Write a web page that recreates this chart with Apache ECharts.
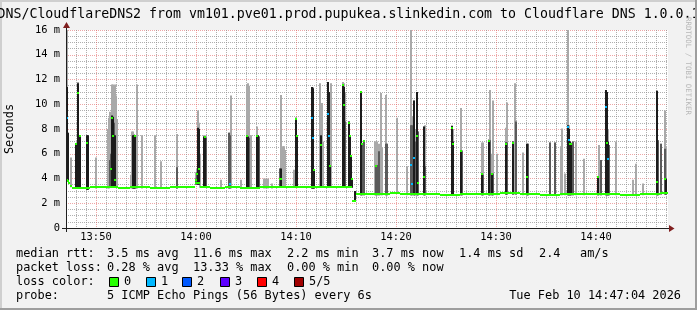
<!DOCTYPE html>
<html><head><meta charset="utf-8">
<script src="https://cdn.jsdelivr.net/npm/echarts@6/dist/echarts.min.js"></script>
<style>html,body{margin:0;padding:0;background:#f2f2f2;}#c{width:697px;height:310px;}</style>
</head><body><div id="c"></div>
<script>
// ---------- DATA (time = minutes after 13:00, values in ms) ----------
const title = 'DNS/CloudflareDNS2 from vm101.pve01.prod.pupukea.slinkedin.com to Cloudflare DNS 1.0.0.1';
const yTitle = 'Seconds';
const watermark = 'RRDTOOL / TOBI OETIKER';
const xMajorTicks = [50, 60, 70, 80, 90, 100];
const yMajorTicks = [0, 2, 4, 6, 8, 10, 12, 14, 16];

// outer smoke (max ping of each round) - light gray
const lightT = [47.05,47.15,47.50,48.00,48.20,48.35,49.10,49.20,49.95,51.20,51.30,51.40,51.50,51.60,51.70,51.80,51.90,52.00,52.10,53.50,53.60,53.70,53.80,53.90,54.10,54.60,55.90,56.45,58.05,60.00,60.10,60.20,60.30,60.40,60.80,60.90,61.00,62.50,63.30,63.40,63.50,64.45,65.10,65.20,65.30,65.45,66.10,66.20,66.30,66.80,67.00,67.20,67.60,68.40,68.50,68.70,68.80,68.90,69.75,69.95,70.05,71.60,71.70,71.80,72.40,72.50,72.60,72.70,73.15,73.25,73.35,73.50,74.70,74.80,74.90,75.25,75.35,75.45,75.55,75.90,76.45,76.55,76.75,77.90,78.00,78.10,78.30,78.50,78.60,78.95,79.05,80.10,81.10,81.50,81.60,81.80,81.90,82.10,82.20,82.80,82.90,85.55,85.65,86.50,86.60,88.60,88.70,89.25,89.35,89.60,89.70,90.05,90.95,91.05,91.70,91.85,92.00,92.65,93.10,93.20,95.40,95.85,96.50,96.60,96.85,97.15,97.25,97.40,97.50,97.70,98.00,98.80,100.15,100.25,100.45,101.00,101.10,101.20,101.30,102.00,103.70,104.00,104.70,106.10,106.20,106.45,106.85,106.95];
const lightV = [16.4,7.7,5.7,6.8,11.8,7.4,7.5,7.5,5.7,8.0,8.9,9.4,9.0,11.6,11.6,10.2,11.6,10.7,8.8,4.3,7.8,7.8,7.6,7.5,11.6,7.5,7.5,5.4,7.6,4.5,4.8,9.5,8.5,6.0,7.5,7.5,7.4,3.9,7.7,7.7,10.7,3.9,11.6,11.7,11.5,7.5,8.2,7.5,7.4,4.0,4.0,4.0,3.6,4.8,10.75,6.6,6.6,6.3,4.7,8.9,7.5,11.4,11.4,4.7,11.7,10.1,10.1,7.0,11.8,11.0,5.0,11.7,11.8,11.7,11.0,8.6,7.5,5.8,4.0,3.0,11.0,6.8,7.1,7.0,7.0,7.0,6.8,10.9,6.5,10.75,6.8,8.9,5.0,16.4,9.0,10.3,8.0,11.0,7.8,8.2,8.3,8.3,8.0,9.7,6.3,6.9,6.9,7.2,11.15,6.0,10.3,6.0,8.1,10.15,7.0,11.7,8.6,6.1,6.8,6.8,6.9,6.9,6.6,8.05,4.4,16.4,8.3,7.0,6.9,7.0,7.0,5.6,4.15,6.7,5.5,11.15,11.0,8.0,6.7,7.0,3.9,5.2,3.6,11.1,7.1,6.8,9.5,6.4];

// middle smoke - mid gray
const midT = [51.40,51.50,51.80,58.05,60.00,60.10,61.00,63.30,63.40,65.30,66.30,68.40,74.90,76.55,76.75,78.00,78.10,78.30,78.95,79.05,81.50,81.60,81.90,82.20,82.90,86.60,88.70,89.35,89.70,91.05,92.00,93.20,95.40,95.85,97.70,100.45,101.30,106.20,106.45,106.85];
const midV = [5.5,6.0,8.5,4.9,4.0,4.5,7.3,7.7,7.5,7.3,7.4,4.8,8.6,6.8,7.0,5.1,5.1,6.2,6.8,6.8,8.3,8.3,7.0,7.8,5.0,6.2,4.3,7.1,4.4,6.9,8.6,6.8,6.9,6.9,7.0,5.5,6.7,7.1,6.8,6.4];

// inner smoke - near black
const coreT = [47.05,47.15,48.00,48.20,48.35,49.10,49.20,51.60,51.70,51.90,53.70,53.80,53.90,60.20,60.30,60.80,60.90,65.10,65.20,66.10,66.20,68.50,69.95,70.05,71.60,71.70,71.80,72.50,73.15,73.25,73.35,74.70,74.80,75.25,75.35,75.45,75.55,75.90,76.45,81.80,82.10,82.80,85.55,85.65,86.50,88.60,89.25,89.60,90.95,91.70,93.10,97.15,97.25,97.40,97.50,100.15,101.00,101.10,101.20,106.10,106.95];
const coreV = [11.4,7.7,6.8,11.7,7.4,7.5,7.5,9.1,9.0,7.5,7.5,7.5,7.5,8.1,8.0,7.4,7.4,7.4,7.4,7.5,7.5,4.8,8.9,7.4,11.4,11.3,4.7,7.5,11.8,11.0,5.0,11.6,11.4,8.6,7.4,5.8,4.0,3.0,11.0,10.3,11.0,8.2,8.24,7.0,6.2,4.4,7.1,4.4,6.9,7.0,6.8,8.3,8.0,7.0,6.8,4.15,11.15,11.0,7.0,11.1,4.0];

// median rtt of rounds that sit off the baseline, with lost pings of 5
const medT = [47.05,47.15,48.00,48.20,48.35,49.10,51.50,51.60,51.70,51.90,53.90,60.00,60.10,60.30,60.90,63.40,65.10,66.10,68.40,68.50,69.95,70.05,71.60,71.70,71.80,72.50,73.15,73.25,73.35,74.70,74.80,75.25,75.35,75.45,75.55,76.45,76.55,76.75,78.00,81.50,81.60,81.80,82.10,82.20,82.80,85.55,85.65,86.50,88.60,89.25,89.60,90.95,91.70,93.10,97.15,97.25,97.40,97.50,100.15,101.00,101.10,101.20,106.10,106.85];
const medV = [8.9,3.8,6.8,10.9,7.4,6.9,4.8,8.9,7.4,3.9,7.4,3.9,4.4,4.8,7.35,3.55,7.4,7.45,4.0,4.0,8.8,7.4,8.9,7.3,4.7,6.7,9.2,7.4,5.0,11.55,9.9,8.5,7.4,5.8,4.0,10.95,6.8,7.0,5.0,5.1,3.55,5.65,7.4,3.66,4.15,8.1,6.76,6.2,4.35,7.0,4.35,6.8,6.9,4.1,8.2,7.1,6.8,6.8,4.15,9.8,6.9,5.6,3.74,4.0];
const medLoss = [1,0,0,0,0,0,0,0,0,0,0,0,0,0,0,1,0,0,0,0,0,0,1,1,0,0,1,1,0,0,0,0,0,0,0,0,0,0,0,1,1,1,0,0,0,0,0,0,0,0,0,0,0,0,1,1,0,0,0,1,0,1,0,0];

// baseline median rtt (block start times and values)
const baseT = [47.0,47.2,47.4,47.6,48.4,49.4,50.4,51.4,52.2,53.4,55.4,57.4,59.4,59.9,60.4,61.4,62.9,64.4,66.4,68.4,70.4,72.4,74.4,75.6,75.95,77.4,79.4,80.4,82.4,84.4,86.4,88.4,90.4,92.4,94.4,96.4,98.4,100.4,102.4,104.4,106.4];
const baseV = [3.85,3.6,3.4,3.25,3.2,3.3,3.3,3.35,3.25,3.3,3.25,3.3,3.35,3.6,3.35,3.25,3.3,3.25,3.3,3.35,3.3,3.35,3.35,2.2,2.75,2.75,2.85,2.75,2.75,2.7,2.75,2.75,2.8,2.75,2.7,2.75,2.75,2.75,2.7,2.75,2.8];
const tStart = 47.0, tEnd = 107.2;

const lossLabels = ['0', '1', '2', '3', '4', '5/5'];
const lossColors = ['#26ff00', '#00b8ff', '#0059ff', '#5e00ff', '#ff0000', '#a00000'];

const legendRows = [
  ['median rtt:', '3.5 ms avg', '11.6 ms max', '2.2 ms min', '3.7 ms now', '1.4 ms sd', '2.4', 'am/s'],
  ['packet loss:', '0.28 % avg', '13.33 % max', '0.00 % min', '0.00 % now'],
  ['loss color:'],
  ['probe:', '5 ICMP Echo Pings (56 Bytes) every 6s']
];
const dateText = 'Tue Feb 10 14:47:04 2026';

// ---------- CHART ----------
const MONO = '"DejaVu Sans Mono", monospace';
function baseAt(t) {
  let v = baseV[0];
  for (let i = 0; i < baseT.length; i++) if (baseT[i] <= t) v = baseV[i];
  return v;
}
function fmtTime(v) {
  const h = 13 + Math.floor(v / 60), m = Math.round(v % 60);
  return h + ':' + (m < 10 ? '0' : '') + m;
}
function smokeSeries(ts, vs, color) {
  return {
    type: 'custom', xAxisIndex: 0, yAxisIndex: 0, clip: true, silent: true,
    data: ts.map((t, i) => [t, baseAt(t) - 0.1, vs[i]]),
    renderItem(params, api) {
      const a = api.coord([api.value(0), api.value(1)]);
      const b = api.coord([api.value(0), Math.min(api.value(2), 16.3)]);
      const x = Math.round(a[0]) - 1;
      return { type: 'rect', shape: { x: x, y: b[1], width: 2, height: a[1] - b[1] }, style: { fill: color } };
    }
  };
}
const xMinor = [], yMinor = [];
for (let m = 48; m <= 107; m++) if (m % 10) xMinor.push(m);
for (let v = 0.5; v < 16; v += 0.5) if (v % 2) yMinor.push(v);

const gridLine = { color: 'rgba(143,143,143,0.7)', width: 1, type: [1, 1] };
const majorLine = { color: 'rgba(222,79,79,0.5)', width: 1, type: [1, 1] };

const L = 66, T = 30, W = 602, H = 198;
const graphic = [
  { type: 'rect', shape: { x: 0, y: 0, width: 697, height: 2 }, style: { fill: '#cfcfcf' }, z: 1 },
  { type: 'rect', shape: { x: 0, y: 0, width: 2, height: 310 }, style: { fill: '#cfcfcf' }, z: 1 },
  { type: 'text', x: 348.5, y: 14.5, style: { text: title, font: '13.25px ' + MONO, fill: '#000', textAlign: 'center', textVerticalAlign: 'middle' }, z: 5 },
  { type: 'rect', shape: { x: 0, y: 308, width: 697, height: 2 }, style: { fill: '#9e9e9e' }, z: 6 },
  { type: 'rect', shape: { x: 695, y: 0, width: 2, height: 310 }, style: { fill: '#9e9e9e' }, z: 6 },
  { type: 'text', x: 688, y: 66, rotation: -Math.PI / 2, style: { text: watermark, font: '7.4px ' + MONO, fill: '#b8b8b8', textAlign: 'center', textVerticalAlign: 'middle' }, z: 5 },
  { type: 'text', x: 10, y: 129, rotation: Math.PI / 2, style: { text: yTitle, font: '11.9px ' + MONO, fill: '#000', textAlign: 'center', textVerticalAlign: 'middle' }, z: 5 },
  // axes
  { type: 'line', shape: { x1: 62, y1: 228.5, x2: 670, y2: 228.5 }, style: { stroke: '#1f1f1f', lineWidth: 1 }, z: 20 },
  { type: 'line', shape: { x1: 66.5, y1: 232, x2: 66.5, y2: 26 }, style: { stroke: '#1f1f1f', lineWidth: 1 }, z: 20 },
  { type: 'polygon', shape: { points: [[669, 225], [669, 232], [674.5, 228.5]] }, style: { fill: '#801f1f' }, z: 21 },
  { type: 'polygon', shape: { points: [[63, 28], [70, 28], [66.5, 22]] }, style: { fill: '#801f1f' }, z: 21 }
];
const rowY = [254, 268, 282, 296];
const colX = [16, 107, 193, 287, 372, 459, 539, 580];
legendRows.forEach((row, r) => row.forEach((txt, c) => {
  graphic.push({ type: 'text', x: colX[c], y: rowY[r], style: { text: txt, font: '11.9px ' + MONO, fill: '#000', textVerticalAlign: 'middle' }, z: 5 });
}));
const boxX = [109, 146, 182, 220, 257, 294];
lossLabels.forEach((lab, i) => {
  graphic.push({ type: 'rect', shape: { x: boxX[i] + 0.5, y: 277.5, width: 9, height: 9 }, style: { fill: lossColors[i], stroke: '#000', lineWidth: 1 }, z: 5 });
  graphic.push({ type: 'text', x: boxX[i] + 15, y: rowY[2], style: { text: lab, font: '11.9px ' + MONO, fill: '#000', textVerticalAlign: 'middle' }, z: 5 });
});
graphic.push({ type: 'text', x: 681, y: rowY[3], style: { text: dateText, font: '11.9px ' + MONO, fill: '#000', textAlign: 'right', textVerticalAlign: 'middle' }, z: 5 });

const chart = echarts.init(document.getElementById('c'), null, { renderer: 'canvas' });
chart.setOption({
  animation: false,
  backgroundColor: '#f2f2f2',
  textStyle: { fontFamily: MONO },
  grid: { left: L, top: T, width: W, height: H, show: true, backgroundColor: '#ffffff', borderWidth: 0 },
  xAxis: [
    { type: 'value', min: tStart, max: tEnd, position: 'bottom',
      axisLine: { show: false },
      axisTick: { show: false, customValues: xMajorTicks },
      axisLabel: { customValues: xMajorTicks, formatter: fmtTime, fontFamily: MONO, fontSize: 10.4, color: '#000', margin: 4 },
      splitLine: { show: true, lineStyle: majorLine } },
    { type: 'value', min: tStart, max: tEnd, position: 'bottom',
      axisLine: { show: false }, axisLabel: { show: false },
      axisTick: { show: false, customValues: xMinor },
      splitLine: { show: true, lineStyle: gridLine } }
  ],
  yAxis: [
    { type: 'value', min: 0, max: 16, interval: 2,
      axisLine: { show: false }, axisTick: { show: false },
      axisLabel: { formatter: v => (v === 0 ? '0' : v + ' m'), fontFamily: MONO, fontSize: 10.4, color: '#000', margin: 6 },
      splitLine: { show: true, lineStyle: majorLine } },
    { type: 'value', min: 0, max: 16,
      axisLine: { show: false }, axisLabel: { show: false },
      axisTick: { show: false, customValues: yMinor },
      splitLine: { show: true, lineStyle: gridLine } }
  ],
  series: [
    smokeSeries(lightT, lightV, '#a9a9a9'),
    smokeSeries(midT, midV, '#5a5a5a'),
    smokeSeries(coreT, coreV, '#1c1c1c'),
    { type: 'custom', xAxisIndex: 0, yAxisIndex: 0, clip: true, silent: true,
      data: baseT.map((t, i) => [t, i + 1 < baseT.length ? baseT[i + 1] : tEnd, baseV[i]]),
      renderItem(params, api) {
        const a = api.coord([api.value(0), api.value(2)]);
        const b = api.coord([api.value(1), api.value(2)]);
        const x0 = Math.round(a[0]), x1 = Math.round(b[0]);
        return { type: 'rect', shape: { x: x0, y: Math.round(a[1]) - 1, width: x1 - x0, height: 2 }, style: { fill: lossColors[0] } };
      } },
    { type: 'custom', xAxisIndex: 0, yAxisIndex: 0, clip: true, silent: true,
      data: medT.map((t, i) => [t, medV[i], medLoss[i]]),
      renderItem(params, api) {
        const p = api.coord([api.value(0), api.value(1)]);
        return { type: 'rect', shape: { x: Math.round(p[0]) - 1, y: Math.round(p[1]) - 1, width: 2, height: 2 }, style: { fill: lossColors[api.value(2)] } };
      } }
  ],
  graphic: graphic
});
</script>
</body></html>
